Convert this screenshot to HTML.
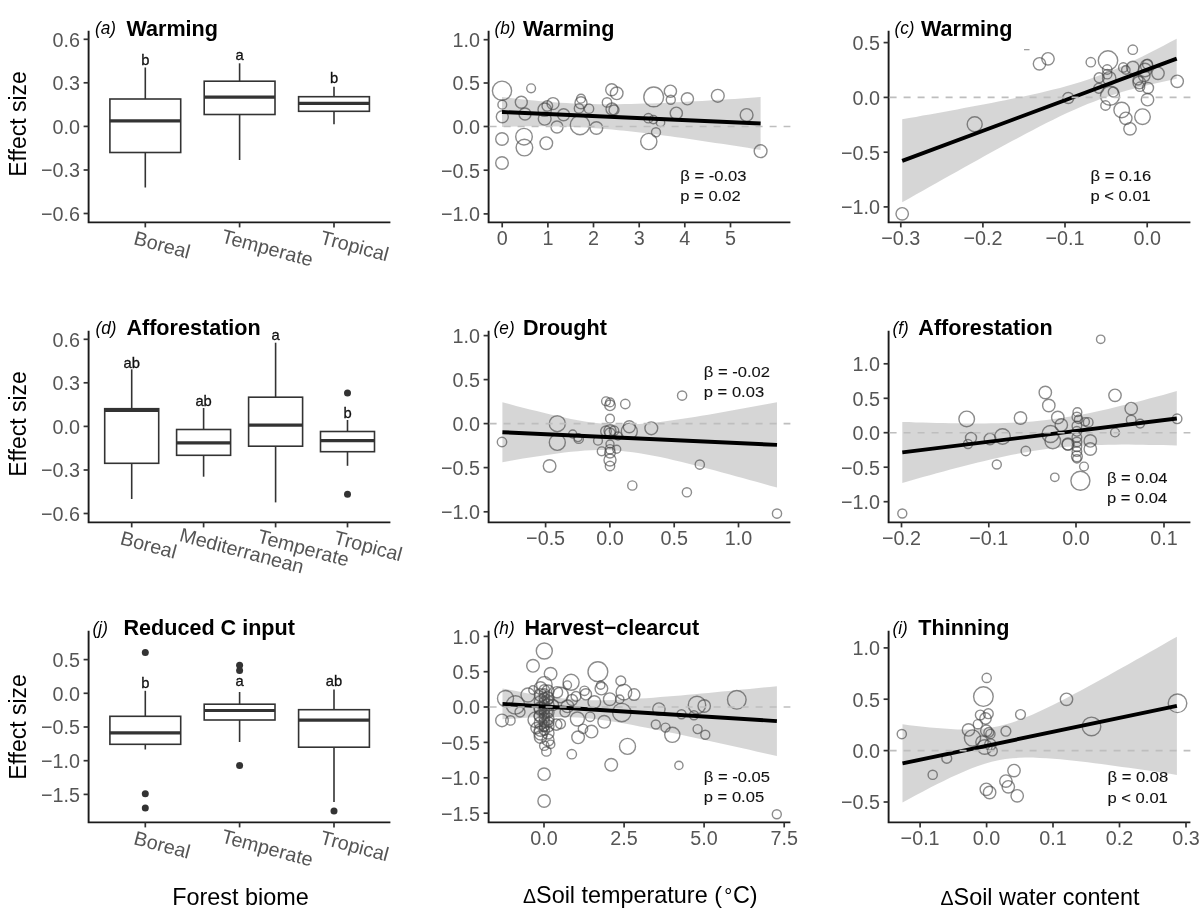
<!DOCTYPE html>
<html><head><meta charset="utf-8"><style>
html,body{margin:0;padding:0;background:#fff;}
svg{display:block;font-family:"Liberation Sans",sans-serif;will-change:transform;}
</style></head><body>
<svg width="1200" height="922" viewBox="0 0 1200 922">
<rect width="1200" height="922" fill="#fff"/>
<path d="M88.6 30.8 V222.4 H390.4" fill="none" stroke="#1a1a1a" stroke-width="1.9" stroke-linejoin="miter"/>
<line x1="83.6" y1="39.3" x2="88.6" y2="39.3" stroke="#333333" stroke-width="1.7"/>
<text transform="translate(80.0 46.7) scale(1.03 1.08)" text-anchor="end" font-size="19.2" fill="#555555">0.6</text>
<line x1="83.6" y1="82.8" x2="88.6" y2="82.8" stroke="#333333" stroke-width="1.7"/>
<text transform="translate(80.0 90.2) scale(1.03 1.08)" text-anchor="end" font-size="19.2" fill="#555555">0.3</text>
<line x1="83.6" y1="126.4" x2="88.6" y2="126.4" stroke="#333333" stroke-width="1.7"/>
<text transform="translate(80.0 133.8) scale(1.03 1.08)" text-anchor="end" font-size="19.2" fill="#555555">0.0</text>
<line x1="83.6" y1="170.0" x2="88.6" y2="170.0" stroke="#333333" stroke-width="1.7"/>
<text transform="translate(80.0 177.4) scale(1.03 1.08)" text-anchor="end" font-size="19.2" fill="#555555">−0.3</text>
<line x1="83.6" y1="213.5" x2="88.6" y2="213.5" stroke="#333333" stroke-width="1.7"/>
<text transform="translate(80.0 220.9) scale(1.03 1.08)" text-anchor="end" font-size="19.2" fill="#555555">−0.6</text>
<text transform="translate(25.9 124.0) rotate(-90) scale(0.965 1)" text-anchor="middle" font-size="23.8" fill="#000">Effect size</text>
<line x1="145.3" y1="67.5" x2="145.3" y2="99.0" stroke="#333333" stroke-width="1.6"/>
<line x1="145.3" y1="152.5" x2="145.3" y2="187.5" stroke="#333333" stroke-width="1.6"/>
<rect x="109.9" y="99.0" width="70.8" height="53.5" fill="#fff" stroke="#333333" stroke-width="1.6"/>
<line x1="109.9" y1="120.8" x2="180.7" y2="120.8" stroke="#333333" stroke-width="3.2"/>
<text transform="translate(145.3 65.2) scale(1.01 1)" text-anchor="middle" font-size="14.6" fill="#111" stroke="#111" stroke-width="0.3">b</text>
<line x1="239.6" y1="63.3" x2="239.6" y2="81.2" stroke="#333333" stroke-width="1.6"/>
<line x1="239.6" y1="114.5" x2="239.6" y2="160.0" stroke="#333333" stroke-width="1.6"/>
<rect x="204.2" y="81.2" width="70.8" height="33.3" fill="#fff" stroke="#333333" stroke-width="1.6"/>
<line x1="204.2" y1="97.2" x2="275.0" y2="97.2" stroke="#333333" stroke-width="3.2"/>
<text transform="translate(239.6 60.4) scale(1.01 1)" text-anchor="middle" font-size="14.6" fill="#111" stroke="#111" stroke-width="0.3">a</text>
<line x1="334.0" y1="86.7" x2="334.0" y2="96.7" stroke="#333333" stroke-width="1.6"/>
<line x1="334.0" y1="111.3" x2="334.0" y2="124.2" stroke="#333333" stroke-width="1.6"/>
<rect x="298.6" y="96.7" width="70.8" height="14.6" fill="#fff" stroke="#333333" stroke-width="1.6"/>
<line x1="298.6" y1="103.3" x2="369.4" y2="103.3" stroke="#333333" stroke-width="3.2"/>
<text transform="translate(334.0 83.3) scale(1.01 1)" text-anchor="middle" font-size="14.6" fill="#111" stroke="#111" stroke-width="0.3">b</text>
<line x1="145.3" y1="222.4" x2="145.3" y2="227.4" stroke="#333333" stroke-width="1.7"/>
<text transform="translate(143.0 246.8) rotate(15.0)" x="-10.6" y="0" font-size="19.8" fill="#555555">Boreal</text>
<line x1="239.6" y1="222.4" x2="239.6" y2="227.4" stroke="#333333" stroke-width="1.7"/>
<text transform="translate(237.3 246.8) rotate(15.0)" x="-17.3" y="0" font-size="19.8" fill="#555555">Temperate</text>
<line x1="334.0" y1="222.4" x2="334.0" y2="227.4" stroke="#333333" stroke-width="1.7"/>
<text transform="translate(331.7 246.8) rotate(15.0)" x="-12.9" y="0" font-size="19.8" fill="#555555">Tropical</text>
<text transform="translate(94.9 33.9) scale(1 1.1)" font-size="17.2" font-style="italic" fill="#000">(a)</text>
<text x="126.4" y="35.5" font-size="21.6" font-weight="bold" fill="#000">Warming</text>
<path d="M88.6 330.8 V522.4 H390.4" fill="none" stroke="#1a1a1a" stroke-width="1.9" stroke-linejoin="miter"/>
<line x1="83.6" y1="339.3" x2="88.6" y2="339.3" stroke="#333333" stroke-width="1.7"/>
<text transform="translate(80.0 346.7) scale(1.03 1.08)" text-anchor="end" font-size="19.2" fill="#555555">0.6</text>
<line x1="83.6" y1="382.8" x2="88.6" y2="382.8" stroke="#333333" stroke-width="1.7"/>
<text transform="translate(80.0 390.2) scale(1.03 1.08)" text-anchor="end" font-size="19.2" fill="#555555">0.3</text>
<line x1="83.6" y1="426.4" x2="88.6" y2="426.4" stroke="#333333" stroke-width="1.7"/>
<text transform="translate(80.0 433.8) scale(1.03 1.08)" text-anchor="end" font-size="19.2" fill="#555555">0.0</text>
<line x1="83.6" y1="470.0" x2="88.6" y2="470.0" stroke="#333333" stroke-width="1.7"/>
<text transform="translate(80.0 477.4) scale(1.03 1.08)" text-anchor="end" font-size="19.2" fill="#555555">−0.3</text>
<line x1="83.6" y1="513.5" x2="88.6" y2="513.5" stroke="#333333" stroke-width="1.7"/>
<text transform="translate(80.0 520.9) scale(1.03 1.08)" text-anchor="end" font-size="19.2" fill="#555555">−0.6</text>
<text transform="translate(25.9 424.0) rotate(-90) scale(0.965 1)" text-anchor="middle" font-size="23.8" fill="#000">Effect size</text>
<line x1="131.7" y1="369.3" x2="131.7" y2="408.7" stroke="#333333" stroke-width="1.6"/>
<line x1="131.7" y1="463.3" x2="131.7" y2="499.0" stroke="#333333" stroke-width="1.6"/>
<rect x="104.7" y="408.7" width="54.0" height="54.6" fill="#fff" stroke="#333333" stroke-width="1.6"/>
<line x1="104.7" y1="410.5" x2="158.7" y2="410.5" stroke="#333333" stroke-width="3.2"/>
<text transform="translate(131.7 368.2) scale(1.01 1)" text-anchor="middle" font-size="14.6" fill="#111" stroke="#111" stroke-width="0.3">ab</text>
<line x1="203.6" y1="408.0" x2="203.6" y2="429.5" stroke="#333333" stroke-width="1.6"/>
<line x1="203.6" y1="455.3" x2="203.6" y2="476.7" stroke="#333333" stroke-width="1.6"/>
<rect x="176.6" y="429.5" width="54.0" height="25.8" fill="#fff" stroke="#333333" stroke-width="1.6"/>
<line x1="176.6" y1="442.8" x2="230.6" y2="442.8" stroke="#333333" stroke-width="3.2"/>
<text transform="translate(203.6 405.8) scale(1.01 1)" text-anchor="middle" font-size="14.6" fill="#111" stroke="#111" stroke-width="0.3">ab</text>
<line x1="275.6" y1="342.7" x2="275.6" y2="397.2" stroke="#333333" stroke-width="1.6"/>
<line x1="275.6" y1="446.2" x2="275.6" y2="502.4" stroke="#333333" stroke-width="1.6"/>
<rect x="248.6" y="397.2" width="54.0" height="49.0" fill="#fff" stroke="#333333" stroke-width="1.6"/>
<line x1="248.6" y1="425.2" x2="302.6" y2="425.2" stroke="#333333" stroke-width="3.2"/>
<text transform="translate(275.6 339.8) scale(1.01 1)" text-anchor="middle" font-size="14.6" fill="#111" stroke="#111" stroke-width="0.3">a</text>
<line x1="347.5" y1="420.0" x2="347.5" y2="431.5" stroke="#333333" stroke-width="1.6"/>
<line x1="347.5" y1="451.7" x2="347.5" y2="465.8" stroke="#333333" stroke-width="1.6"/>
<rect x="320.5" y="431.5" width="54.0" height="20.2" fill="#fff" stroke="#333333" stroke-width="1.6"/>
<line x1="320.5" y1="440.6" x2="374.5" y2="440.6" stroke="#333333" stroke-width="3.2"/>
<circle cx="347.5" cy="393.0" r="3.5" fill="#333333"/>
<circle cx="347.5" cy="494.2" r="3.5" fill="#333333"/>
<text transform="translate(347.5 417.5) scale(1.01 1)" text-anchor="middle" font-size="14.6" fill="#111" stroke="#111" stroke-width="0.3">b</text>
<line x1="131.7" y1="522.4" x2="131.7" y2="527.4" stroke="#333333" stroke-width="1.7"/>
<text transform="translate(129.4 546.8) rotate(15.0)" x="-10.6" y="0" font-size="19.8" fill="#555555">Boreal</text>
<line x1="203.6" y1="522.4" x2="203.6" y2="527.4" stroke="#333333" stroke-width="1.7"/>
<text transform="translate(201.3 546.8) rotate(15.0)" x="-23.6" y="0" font-size="19.8" fill="#555555">Mediterranean</text>
<line x1="275.6" y1="522.4" x2="275.6" y2="527.4" stroke="#333333" stroke-width="1.7"/>
<text transform="translate(273.3 546.8) rotate(15.0)" x="-17.3" y="0" font-size="19.8" fill="#555555">Temperate</text>
<line x1="347.5" y1="522.4" x2="347.5" y2="527.4" stroke="#333333" stroke-width="1.7"/>
<text transform="translate(345.2 546.8) rotate(15.0)" x="-12.9" y="0" font-size="19.8" fill="#555555">Tropical</text>
<text transform="translate(95.4 333.5) scale(1 1.1)" font-size="17.2" font-style="italic" fill="#000">(d)</text>
<text x="126.4" y="334.7" font-size="21.6" font-weight="bold" fill="#000">Afforestation</text>
<path d="M88.6 630.8 V822.4 H390.4" fill="none" stroke="#1a1a1a" stroke-width="1.9" stroke-linejoin="miter"/>
<line x1="83.6" y1="659.6" x2="88.6" y2="659.6" stroke="#333333" stroke-width="1.7"/>
<text transform="translate(80.0 667.0) scale(1.03 1.08)" text-anchor="end" font-size="19.2" fill="#555555">0.5</text>
<line x1="83.6" y1="693.3" x2="88.6" y2="693.3" stroke="#333333" stroke-width="1.7"/>
<text transform="translate(80.0 700.7) scale(1.03 1.08)" text-anchor="end" font-size="19.2" fill="#555555">0.0</text>
<line x1="83.6" y1="727.0" x2="88.6" y2="727.0" stroke="#333333" stroke-width="1.7"/>
<text transform="translate(80.0 734.4) scale(1.03 1.08)" text-anchor="end" font-size="19.2" fill="#555555">−0.5</text>
<line x1="83.6" y1="760.7" x2="88.6" y2="760.7" stroke="#333333" stroke-width="1.7"/>
<text transform="translate(80.0 768.1) scale(1.03 1.08)" text-anchor="end" font-size="19.2" fill="#555555">−1.0</text>
<line x1="83.6" y1="794.4" x2="88.6" y2="794.4" stroke="#333333" stroke-width="1.7"/>
<text transform="translate(80.0 801.8) scale(1.03 1.08)" text-anchor="end" font-size="19.2" fill="#555555">−1.5</text>
<text transform="translate(25.9 727.0) rotate(-90) scale(0.965 1)" text-anchor="middle" font-size="23.8" fill="#000">Effect size</text>
<line x1="145.3" y1="690.8" x2="145.3" y2="716.3" stroke="#333333" stroke-width="1.6"/>
<line x1="145.3" y1="744.3" x2="145.3" y2="749.5" stroke="#333333" stroke-width="1.6"/>
<rect x="109.9" y="716.3" width="70.8" height="28.0" fill="#fff" stroke="#333333" stroke-width="1.6"/>
<line x1="109.9" y1="732.8" x2="180.7" y2="732.8" stroke="#333333" stroke-width="3.2"/>
<circle cx="145.3" cy="652.5" r="3.5" fill="#333333"/>
<circle cx="145.3" cy="793.7" r="3.5" fill="#333333"/>
<circle cx="145.3" cy="808.0" r="3.5" fill="#333333"/>
<text transform="translate(145.3 688.0) scale(1.01 1)" text-anchor="middle" font-size="14.6" fill="#111" stroke="#111" stroke-width="0.3">b</text>
<line x1="239.6" y1="692.0" x2="239.6" y2="704.2" stroke="#333333" stroke-width="1.6"/>
<line x1="239.6" y1="720.0" x2="239.6" y2="742.0" stroke="#333333" stroke-width="1.6"/>
<rect x="204.2" y="704.2" width="70.8" height="15.8" fill="#fff" stroke="#333333" stroke-width="1.6"/>
<line x1="204.2" y1="710.5" x2="275.0" y2="710.5" stroke="#333333" stroke-width="3.2"/>
<circle cx="239.6" cy="665.3" r="3.5" fill="#333333"/>
<circle cx="239.6" cy="670.5" r="3.5" fill="#333333"/>
<circle cx="239.6" cy="765.5" r="3.5" fill="#333333"/>
<text transform="translate(239.6 685.8) scale(1.01 1)" text-anchor="middle" font-size="14.6" fill="#111" stroke="#111" stroke-width="0.3">a</text>
<line x1="334.0" y1="689.4" x2="334.0" y2="709.7" stroke="#333333" stroke-width="1.6"/>
<line x1="334.0" y1="747.2" x2="334.0" y2="802.0" stroke="#333333" stroke-width="1.6"/>
<rect x="298.6" y="709.7" width="70.8" height="37.5" fill="#fff" stroke="#333333" stroke-width="1.6"/>
<line x1="298.6" y1="720.2" x2="369.4" y2="720.2" stroke="#333333" stroke-width="3.2"/>
<circle cx="334.0" cy="810.9" r="3.5" fill="#333333"/>
<text transform="translate(334.0 685.9) scale(1.01 1)" text-anchor="middle" font-size="14.6" fill="#111" stroke="#111" stroke-width="0.3">ab</text>
<line x1="145.3" y1="822.4" x2="145.3" y2="827.4" stroke="#333333" stroke-width="1.7"/>
<text transform="translate(143.0 846.8) rotate(15.0)" x="-10.6" y="0" font-size="19.8" fill="#555555">Boreal</text>
<line x1="239.6" y1="822.4" x2="239.6" y2="827.4" stroke="#333333" stroke-width="1.7"/>
<text transform="translate(237.3 846.8) rotate(15.0)" x="-17.3" y="0" font-size="19.8" fill="#555555">Temperate</text>
<line x1="334.0" y1="822.4" x2="334.0" y2="827.4" stroke="#333333" stroke-width="1.7"/>
<text transform="translate(331.7 846.8) rotate(15.0)" x="-12.9" y="0" font-size="19.8" fill="#555555">Tropical</text>
<text transform="translate(92.6 633.5) scale(1 1.1)" font-size="17.2" font-style="italic" fill="#000">(j)</text>
<text x="123.4" y="634.7" font-size="21.6" font-weight="bold" fill="#000">Reduced C input</text>
<path d="M488.6 30.8 V222.4 H790.4" fill="none" stroke="#1a1a1a" stroke-width="1.9" stroke-linejoin="miter"/>
<line x1="483.6" y1="39.7" x2="488.6" y2="39.7" stroke="#333333" stroke-width="1.7"/>
<text transform="translate(480.0 47.1) scale(1.03 1.08)" text-anchor="end" font-size="19.2" fill="#555555">1.0</text>
<line x1="483.6" y1="83.0" x2="488.6" y2="83.0" stroke="#333333" stroke-width="1.7"/>
<text transform="translate(480.0 90.4) scale(1.03 1.08)" text-anchor="end" font-size="19.2" fill="#555555">0.5</text>
<line x1="483.6" y1="126.5" x2="488.6" y2="126.5" stroke="#333333" stroke-width="1.7"/>
<text transform="translate(480.0 133.9) scale(1.03 1.08)" text-anchor="end" font-size="19.2" fill="#555555">0.0</text>
<line x1="483.6" y1="170.2" x2="488.6" y2="170.2" stroke="#333333" stroke-width="1.7"/>
<text transform="translate(480.0 177.6) scale(1.03 1.08)" text-anchor="end" font-size="19.2" fill="#555555">−0.5</text>
<line x1="483.6" y1="213.9" x2="488.6" y2="213.9" stroke="#333333" stroke-width="1.7"/>
<text transform="translate(480.0 221.3) scale(1.03 1.08)" text-anchor="end" font-size="19.2" fill="#555555">−1.0</text>
<line x1="502.2" y1="222.4" x2="502.2" y2="227.4" stroke="#333333" stroke-width="1.7"/>
<text transform="translate(502.2 244.9) scale(1.03 1.08)" text-anchor="middle" font-size="19.2" fill="#555555">0</text>
<line x1="547.9" y1="222.4" x2="547.9" y2="227.4" stroke="#333333" stroke-width="1.7"/>
<text transform="translate(547.9 244.9) scale(1.03 1.08)" text-anchor="middle" font-size="19.2" fill="#555555">1</text>
<line x1="593.5" y1="222.4" x2="593.5" y2="227.4" stroke="#333333" stroke-width="1.7"/>
<text transform="translate(593.5 244.9) scale(1.03 1.08)" text-anchor="middle" font-size="19.2" fill="#555555">2</text>
<line x1="639.2" y1="222.4" x2="639.2" y2="227.4" stroke="#333333" stroke-width="1.7"/>
<text transform="translate(639.2 244.9) scale(1.03 1.08)" text-anchor="middle" font-size="19.2" fill="#555555">3</text>
<line x1="684.8" y1="222.4" x2="684.8" y2="227.4" stroke="#333333" stroke-width="1.7"/>
<text transform="translate(684.8 244.9) scale(1.03 1.08)" text-anchor="middle" font-size="19.2" fill="#555555">4</text>
<line x1="730.5" y1="222.4" x2="730.5" y2="227.4" stroke="#333333" stroke-width="1.7"/>
<text transform="translate(730.5 244.9) scale(1.03 1.08)" text-anchor="middle" font-size="19.2" fill="#555555">5</text>
<path d="M502.0 97.0 L508.5 97.8 L514.9 98.6 L521.4 99.3 L527.9 100.0 L534.3 100.6 L540.8 101.2 L547.3 101.7 L553.7 102.2 L560.2 102.7 L566.6 103.1 L573.1 103.4 L579.6 103.7 L586.0 103.9 L592.5 104.1 L599.0 104.2 L605.4 104.2 L611.9 104.2 L618.4 104.2 L624.8 104.1 L631.3 104.0 L637.8 103.8 L644.2 103.6 L650.7 103.4 L657.2 103.2 L663.6 102.9 L670.1 102.6 L676.6 102.3 L683.0 102.0 L689.5 101.6 L696.0 101.3 L702.4 100.9 L708.9 100.5 L715.3 100.1 L721.8 99.7 L728.3 99.3 L734.7 98.9 L741.2 98.4 L747.7 98.0 L754.1 97.6 L760.6 97.1 L760.6 149.9 L754.1 148.9 L747.7 147.8 L741.2 146.8 L734.7 145.8 L728.3 144.8 L721.8 143.8 L715.3 142.9 L708.9 141.9 L702.4 140.9 L696.0 140.0 L689.5 139.1 L683.0 138.1 L676.6 137.2 L670.1 136.3 L663.6 135.5 L657.2 134.6 L650.7 133.8 L644.2 133.0 L637.8 132.2 L631.3 131.5 L624.8 130.8 L618.4 130.2 L611.9 129.5 L605.4 129.0 L599.0 128.4 L592.5 128.0 L586.0 127.6 L579.6 127.2 L573.1 126.9 L566.6 126.7 L560.2 126.5 L553.7 126.4 L547.3 126.3 L540.8 126.3 L534.3 126.3 L527.9 126.3 L521.4 126.4 L514.9 126.6 L508.5 126.8 L502.0 127.0Z" fill="rgba(153,153,153,0.4)"/>
<circle cx="502.0" cy="90.7" r="9.6" fill="none" stroke="rgba(70,70,70,0.62)" stroke-width="1.4"/>
<circle cx="531.1" cy="88.3" r="4.4" fill="none" stroke="rgba(70,70,70,0.62)" stroke-width="1.4"/>
<circle cx="502.3" cy="104.7" r="4.4" fill="none" stroke="rgba(70,70,70,0.62)" stroke-width="1.4"/>
<circle cx="521.3" cy="102.3" r="6.0" fill="none" stroke="rgba(70,70,70,0.62)" stroke-width="1.4"/>
<circle cx="502.3" cy="116.7" r="6.0" fill="none" stroke="rgba(70,70,70,0.62)" stroke-width="1.4"/>
<circle cx="525.0" cy="114.0" r="6.0" fill="none" stroke="rgba(70,70,70,0.62)" stroke-width="1.4"/>
<circle cx="544.7" cy="109.7" r="6.7" fill="none" stroke="rgba(70,70,70,0.62)" stroke-width="1.4"/>
<circle cx="547.3" cy="106.0" r="5.3" fill="none" stroke="rgba(70,70,70,0.62)" stroke-width="1.4"/>
<circle cx="553.0" cy="103.6" r="6.0" fill="none" stroke="rgba(70,70,70,0.62)" stroke-width="1.4"/>
<circle cx="544.7" cy="118.7" r="6.4" fill="none" stroke="rgba(70,70,70,0.62)" stroke-width="1.4"/>
<circle cx="563.6" cy="114.7" r="6.0" fill="none" stroke="rgba(70,70,70,0.62)" stroke-width="1.4"/>
<circle cx="557.0" cy="127.0" r="6.0" fill="none" stroke="rgba(70,70,70,0.62)" stroke-width="1.4"/>
<circle cx="580.0" cy="125.0" r="9.7" fill="none" stroke="rgba(70,70,70,0.62)" stroke-width="1.4"/>
<circle cx="581.0" cy="98.7" r="4.4" fill="none" stroke="rgba(70,70,70,0.62)" stroke-width="1.4"/>
<circle cx="581.0" cy="102.7" r="6.0" fill="none" stroke="rgba(70,70,70,0.62)" stroke-width="1.4"/>
<circle cx="579.0" cy="108.4" r="4.7" fill="none" stroke="rgba(70,70,70,0.62)" stroke-width="1.4"/>
<circle cx="589.0" cy="108.7" r="4.7" fill="none" stroke="rgba(70,70,70,0.62)" stroke-width="1.4"/>
<circle cx="596.4" cy="128.0" r="6.3" fill="none" stroke="rgba(70,70,70,0.62)" stroke-width="1.4"/>
<circle cx="611.7" cy="89.7" r="6.0" fill="none" stroke="rgba(70,70,70,0.62)" stroke-width="1.4"/>
<circle cx="616.7" cy="93.3" r="6.3" fill="none" stroke="rgba(70,70,70,0.62)" stroke-width="1.4"/>
<circle cx="607.0" cy="102.4" r="4.7" fill="none" stroke="rgba(70,70,70,0.62)" stroke-width="1.4"/>
<circle cx="612.0" cy="109.0" r="6.0" fill="none" stroke="rgba(70,70,70,0.62)" stroke-width="1.4"/>
<circle cx="614.0" cy="110.0" r="5.0" fill="none" stroke="rgba(70,70,70,0.62)" stroke-width="1.4"/>
<circle cx="502.0" cy="139.0" r="6.3" fill="none" stroke="rgba(70,70,70,0.62)" stroke-width="1.4"/>
<circle cx="524.0" cy="136.7" r="8.3" fill="none" stroke="rgba(70,70,70,0.62)" stroke-width="1.4"/>
<circle cx="524.4" cy="147.6" r="8.3" fill="none" stroke="rgba(70,70,70,0.62)" stroke-width="1.4"/>
<circle cx="546.3" cy="143.2" r="6.3" fill="none" stroke="rgba(70,70,70,0.62)" stroke-width="1.4"/>
<circle cx="502.0" cy="163.0" r="6.3" fill="none" stroke="rgba(70,70,70,0.62)" stroke-width="1.4"/>
<circle cx="653.7" cy="96.9" r="9.9" fill="none" stroke="rgba(70,70,70,0.62)" stroke-width="1.4"/>
<circle cx="670.4" cy="91.2" r="6.1" fill="none" stroke="rgba(70,70,70,0.62)" stroke-width="1.4"/>
<circle cx="670.8" cy="99.7" r="4.5" fill="none" stroke="rgba(70,70,70,0.62)" stroke-width="1.4"/>
<circle cx="687.4" cy="98.8" r="6.1" fill="none" stroke="rgba(70,70,70,0.62)" stroke-width="1.4"/>
<circle cx="717.8" cy="95.8" r="6.4" fill="none" stroke="rgba(70,70,70,0.62)" stroke-width="1.4"/>
<circle cx="676.3" cy="113.2" r="6.1" fill="none" stroke="rgba(70,70,70,0.62)" stroke-width="1.4"/>
<circle cx="648.4" cy="118.2" r="4.7" fill="none" stroke="rgba(70,70,70,0.62)" stroke-width="1.4"/>
<circle cx="653.4" cy="119.6" r="4.2" fill="none" stroke="rgba(70,70,70,0.62)" stroke-width="1.4"/>
<circle cx="660.5" cy="122.4" r="4.2" fill="none" stroke="rgba(70,70,70,0.62)" stroke-width="1.4"/>
<circle cx="656.0" cy="132.3" r="4.5" fill="none" stroke="rgba(70,70,70,0.62)" stroke-width="1.4"/>
<circle cx="648.8" cy="141.5" r="8.1" fill="none" stroke="rgba(70,70,70,0.62)" stroke-width="1.4"/>
<circle cx="746.6" cy="115.0" r="6.4" fill="none" stroke="rgba(70,70,70,0.62)" stroke-width="1.4"/>
<circle cx="760.6" cy="151.2" r="6.4" fill="none" stroke="rgba(70,70,70,0.62)" stroke-width="1.4"/>
<line x1="502.0" y1="112.0" x2="760.6" y2="123.5" stroke="#000" stroke-width="3.9"/>
<line x1="489.6" y1="126.5" x2="790.4" y2="126.5" stroke="#bebebe" stroke-width="1.6" stroke-dasharray="7 7"/>
<text transform="translate(680.3 181.2) scale(1.135 1)" font-size="14.6" fill="#111" stroke="#111" stroke-width="0.1">β = -0.03</text>
<text transform="translate(680.3 201.4) scale(1.135 1)" font-size="14.6" fill="#111" stroke="#111" stroke-width="0.1">p = 0.02</text>
<text transform="translate(494.4 33.9) scale(1 1.1)" font-size="17.2" font-style="italic" fill="#000">(b)</text>
<text x="522.9" y="35.5" font-size="21.6" font-weight="bold" fill="#000">Warming</text>
<path d="M488.6 330.8 V522.4 H790.4" fill="none" stroke="#1a1a1a" stroke-width="1.9" stroke-linejoin="miter"/>
<line x1="483.6" y1="335.6" x2="488.6" y2="335.6" stroke="#333333" stroke-width="1.7"/>
<text transform="translate(480.0 343.0) scale(1.03 1.08)" text-anchor="end" font-size="19.2" fill="#555555">1.0</text>
<line x1="483.6" y1="379.6" x2="488.6" y2="379.6" stroke="#333333" stroke-width="1.7"/>
<text transform="translate(480.0 387.0) scale(1.03 1.08)" text-anchor="end" font-size="19.2" fill="#555555">0.5</text>
<line x1="483.6" y1="423.6" x2="488.6" y2="423.6" stroke="#333333" stroke-width="1.7"/>
<text transform="translate(480.0 431.0) scale(1.03 1.08)" text-anchor="end" font-size="19.2" fill="#555555">0.0</text>
<line x1="483.6" y1="467.6" x2="488.6" y2="467.6" stroke="#333333" stroke-width="1.7"/>
<text transform="translate(480.0 475.0) scale(1.03 1.08)" text-anchor="end" font-size="19.2" fill="#555555">−0.5</text>
<line x1="483.6" y1="511.8" x2="488.6" y2="511.8" stroke="#333333" stroke-width="1.7"/>
<text transform="translate(480.0 519.2) scale(1.03 1.08)" text-anchor="end" font-size="19.2" fill="#555555">−1.0</text>
<line x1="545.6" y1="522.4" x2="545.6" y2="527.4" stroke="#333333" stroke-width="1.7"/>
<text transform="translate(545.6 544.9) scale(1.03 1.08)" text-anchor="middle" font-size="19.2" fill="#555555">−0.5</text>
<line x1="609.9" y1="522.4" x2="609.9" y2="527.4" stroke="#333333" stroke-width="1.7"/>
<text transform="translate(609.9 544.9) scale(1.03 1.08)" text-anchor="middle" font-size="19.2" fill="#555555">0.0</text>
<line x1="674.2" y1="522.4" x2="674.2" y2="527.4" stroke="#333333" stroke-width="1.7"/>
<text transform="translate(674.2 544.9) scale(1.03 1.08)" text-anchor="middle" font-size="19.2" fill="#555555">0.5</text>
<line x1="738.5" y1="522.4" x2="738.5" y2="527.4" stroke="#333333" stroke-width="1.7"/>
<text transform="translate(738.5 544.9) scale(1.03 1.08)" text-anchor="middle" font-size="19.2" fill="#555555">1.0</text>
<path d="M502.4 402.2 L509.3 404.1 L516.1 405.9 L523.0 407.7 L529.9 409.4 L536.7 411.1 L543.6 412.8 L550.5 414.4 L557.3 416.0 L564.2 417.5 L571.0 418.9 L577.9 420.2 L584.8 421.4 L591.6 422.4 L598.5 423.2 L605.4 423.9 L612.2 424.3 L619.1 424.5 L626.0 424.5 L632.8 424.3 L639.7 423.9 L646.6 423.3 L653.4 422.7 L660.3 421.9 L667.2 421.0 L674.0 420.1 L680.9 419.1 L687.8 418.0 L694.6 416.9 L701.5 415.8 L708.3 414.7 L715.2 413.5 L722.1 412.3 L728.9 411.1 L735.8 409.8 L742.7 408.6 L749.5 407.3 L756.4 406.1 L763.3 404.8 L770.1 403.5 L777.0 402.2 L777.0 487.6 L770.1 485.7 L763.3 483.7 L756.4 481.8 L749.5 479.9 L742.7 478.0 L735.8 476.2 L728.9 474.3 L722.1 472.4 L715.2 470.6 L708.3 468.8 L701.5 467.0 L694.6 465.2 L687.8 463.5 L680.9 461.8 L674.0 460.2 L667.2 458.6 L660.3 457.1 L653.4 455.7 L646.6 454.4 L639.7 453.2 L632.8 452.2 L626.0 451.4 L619.1 450.7 L612.2 450.3 L605.4 450.1 L598.5 450.1 L591.6 450.3 L584.8 450.6 L577.9 451.2 L571.0 451.8 L564.2 452.6 L557.3 453.5 L550.5 454.4 L543.6 455.4 L536.7 456.4 L529.9 457.5 L523.0 458.6 L516.1 459.8 L509.3 461.0 L502.4 462.2Z" fill="rgba(153,153,153,0.4)"/>
<circle cx="502.0" cy="442.0" r="4.7" fill="none" stroke="rgba(70,70,70,0.62)" stroke-width="1.4"/>
<circle cx="557.3" cy="423.7" r="8.0" fill="none" stroke="rgba(70,70,70,0.62)" stroke-width="1.4"/>
<circle cx="557.3" cy="442.4" r="8.0" fill="none" stroke="rgba(70,70,70,0.62)" stroke-width="1.4"/>
<circle cx="549.6" cy="466.0" r="6.3" fill="none" stroke="rgba(70,70,70,0.62)" stroke-width="1.4"/>
<circle cx="572.7" cy="434.0" r="4.0" fill="none" stroke="rgba(70,70,70,0.62)" stroke-width="1.4"/>
<circle cx="578.7" cy="438.7" r="4.7" fill="none" stroke="rgba(70,70,70,0.62)" stroke-width="1.4"/>
<circle cx="578.0" cy="437.6" r="4.0" fill="none" stroke="rgba(70,70,70,0.62)" stroke-width="1.4"/>
<circle cx="598.0" cy="440.7" r="4.4" fill="none" stroke="rgba(70,70,70,0.62)" stroke-width="1.4"/>
<circle cx="601.7" cy="451.3" r="4.4" fill="none" stroke="rgba(70,70,70,0.62)" stroke-width="1.4"/>
<circle cx="606.0" cy="401.3" r="4.4" fill="none" stroke="rgba(70,70,70,0.62)" stroke-width="1.4"/>
<circle cx="610.0" cy="402.4" r="4.4" fill="none" stroke="rgba(70,70,70,0.62)" stroke-width="1.4"/>
<circle cx="610.0" cy="405.3" r="5.3" fill="none" stroke="rgba(70,70,70,0.62)" stroke-width="1.4"/>
<circle cx="610.0" cy="418.7" r="4.4" fill="none" stroke="rgba(70,70,70,0.62)" stroke-width="1.4"/>
<circle cx="606.0" cy="431.3" r="5.3" fill="none" stroke="rgba(70,70,70,0.62)" stroke-width="1.4"/>
<circle cx="610.0" cy="430.7" r="6.0" fill="none" stroke="rgba(70,70,70,0.62)" stroke-width="1.4"/>
<circle cx="610.0" cy="433.3" r="5.3" fill="none" stroke="rgba(70,70,70,0.62)" stroke-width="1.4"/>
<circle cx="614.0" cy="430.7" r="4.7" fill="none" stroke="rgba(70,70,70,0.62)" stroke-width="1.4"/>
<circle cx="618.0" cy="436.0" r="4.0" fill="none" stroke="rgba(70,70,70,0.62)" stroke-width="1.4"/>
<circle cx="610.0" cy="444.0" r="4.0" fill="none" stroke="rgba(70,70,70,0.62)" stroke-width="1.4"/>
<circle cx="610.0" cy="449.3" r="4.7" fill="none" stroke="rgba(70,70,70,0.62)" stroke-width="1.4"/>
<circle cx="616.7" cy="449.3" r="4.0" fill="none" stroke="rgba(70,70,70,0.62)" stroke-width="1.4"/>
<circle cx="610.0" cy="452.7" r="5.3" fill="none" stroke="rgba(70,70,70,0.62)" stroke-width="1.4"/>
<circle cx="610.0" cy="460.0" r="6.0" fill="none" stroke="rgba(70,70,70,0.62)" stroke-width="1.4"/>
<circle cx="610.0" cy="466.0" r="4.7" fill="none" stroke="rgba(70,70,70,0.62)" stroke-width="1.4"/>
<circle cx="625.3" cy="404.0" r="4.7" fill="none" stroke="rgba(70,70,70,0.62)" stroke-width="1.4"/>
<circle cx="629.3" cy="426.7" r="6.0" fill="none" stroke="rgba(70,70,70,0.62)" stroke-width="1.4"/>
<circle cx="629.3" cy="431.3" r="8.0" fill="none" stroke="rgba(70,70,70,0.62)" stroke-width="1.4"/>
<circle cx="651.3" cy="428.3" r="6.4" fill="none" stroke="rgba(70,70,70,0.62)" stroke-width="1.4"/>
<circle cx="682.1" cy="395.6" r="4.6" fill="none" stroke="rgba(70,70,70,0.62)" stroke-width="1.4"/>
<circle cx="699.8" cy="464.6" r="4.6" fill="none" stroke="rgba(70,70,70,0.62)" stroke-width="1.4"/>
<circle cx="632.3" cy="485.5" r="4.6" fill="none" stroke="rgba(70,70,70,0.62)" stroke-width="1.4"/>
<circle cx="686.9" cy="492.3" r="4.6" fill="none" stroke="rgba(70,70,70,0.62)" stroke-width="1.4"/>
<circle cx="777.0" cy="513.6" r="4.6" fill="none" stroke="rgba(70,70,70,0.62)" stroke-width="1.4"/>
<line x1="502.4" y1="432.2" x2="777.0" y2="444.9" stroke="#000" stroke-width="3.9"/>
<line x1="489.6" y1="423.6" x2="790.4" y2="423.6" stroke="#bebebe" stroke-width="1.6" stroke-dasharray="7 7"/>
<text transform="translate(703.8 376.7) scale(1.135 1)" font-size="14.6" fill="#111" stroke="#111" stroke-width="0.1">β = -0.02</text>
<text transform="translate(703.8 396.9) scale(1.135 1)" font-size="14.6" fill="#111" stroke="#111" stroke-width="0.1">p = 0.03</text>
<text transform="translate(493.6 333.5) scale(1 1.1)" font-size="17.2" font-style="italic" fill="#000">(e)</text>
<text x="522.9" y="334.7" font-size="21.6" font-weight="bold" fill="#000">Drought</text>
<path d="M488.6 630.8 V822.4 H790.4" fill="none" stroke="#1a1a1a" stroke-width="1.9" stroke-linejoin="miter"/>
<line x1="483.6" y1="636.4" x2="488.6" y2="636.4" stroke="#333333" stroke-width="1.7"/>
<text transform="translate(480.0 643.8) scale(1.03 1.08)" text-anchor="end" font-size="19.2" fill="#555555">1.0</text>
<line x1="483.6" y1="671.7" x2="488.6" y2="671.7" stroke="#333333" stroke-width="1.7"/>
<text transform="translate(480.0 679.1) scale(1.03 1.08)" text-anchor="end" font-size="19.2" fill="#555555">0.5</text>
<line x1="483.6" y1="707.0" x2="488.6" y2="707.0" stroke="#333333" stroke-width="1.7"/>
<text transform="translate(480.0 714.4) scale(1.03 1.08)" text-anchor="end" font-size="19.2" fill="#555555">0.0</text>
<line x1="483.6" y1="742.4" x2="488.6" y2="742.4" stroke="#333333" stroke-width="1.7"/>
<text transform="translate(480.0 749.8) scale(1.03 1.08)" text-anchor="end" font-size="19.2" fill="#555555">−0.5</text>
<line x1="483.6" y1="777.8" x2="488.6" y2="777.8" stroke="#333333" stroke-width="1.7"/>
<text transform="translate(480.0 785.2) scale(1.03 1.08)" text-anchor="end" font-size="19.2" fill="#555555">−1.0</text>
<line x1="483.6" y1="813.2" x2="488.6" y2="813.2" stroke="#333333" stroke-width="1.7"/>
<text transform="translate(480.0 820.6) scale(1.03 1.08)" text-anchor="end" font-size="19.2" fill="#555555">−1.5</text>
<line x1="544.0" y1="822.4" x2="544.0" y2="827.4" stroke="#333333" stroke-width="1.7"/>
<text transform="translate(544.0 844.9) scale(1.03 1.08)" text-anchor="middle" font-size="19.2" fill="#555555">0.0</text>
<line x1="624.1" y1="822.4" x2="624.1" y2="827.4" stroke="#333333" stroke-width="1.7"/>
<text transform="translate(624.1 844.9) scale(1.03 1.08)" text-anchor="middle" font-size="19.2" fill="#555555">2.5</text>
<line x1="704.1" y1="822.4" x2="704.1" y2="827.4" stroke="#333333" stroke-width="1.7"/>
<text transform="translate(704.1 844.9) scale(1.03 1.08)" text-anchor="middle" font-size="19.2" fill="#555555">5.0</text>
<line x1="784.2" y1="822.4" x2="784.2" y2="827.4" stroke="#333333" stroke-width="1.7"/>
<text transform="translate(784.2 844.9) scale(1.03 1.08)" text-anchor="middle" font-size="19.2" fill="#555555">7.5</text>
<path d="M502.5 688.5 L509.4 689.8 L516.2 691.1 L523.1 692.4 L529.9 693.7 L536.8 694.8 L543.7 695.9 L550.5 696.9 L557.4 697.8 L564.2 698.6 L571.1 699.2 L578.0 699.7 L584.8 700.0 L591.7 700.2 L598.5 700.3 L605.4 700.2 L612.3 700.0 L619.1 699.8 L626.0 699.5 L632.8 699.1 L639.7 698.6 L646.6 698.2 L653.4 697.7 L660.3 697.1 L667.1 696.6 L674.0 696.0 L680.9 695.4 L687.7 694.8 L694.6 694.2 L701.4 693.5 L708.3 692.9 L715.2 692.2 L722.0 691.6 L728.9 690.9 L735.7 690.3 L742.6 689.6 L749.5 688.9 L756.3 688.2 L763.2 687.6 L770.0 686.9 L776.9 686.2 L776.9 756.0 L770.0 754.5 L763.2 752.9 L756.3 751.4 L749.5 749.8 L742.6 748.3 L735.7 746.8 L728.9 745.2 L722.0 743.7 L715.2 742.2 L708.3 740.7 L701.4 739.2 L694.6 737.7 L687.7 736.2 L680.9 734.8 L674.0 733.3 L667.1 731.9 L660.3 730.5 L653.4 729.1 L646.6 727.7 L639.7 726.4 L632.8 725.1 L626.0 723.8 L619.1 722.6 L612.3 721.5 L605.4 720.5 L598.5 719.6 L591.7 718.8 L584.8 718.1 L578.0 717.6 L571.1 717.2 L564.2 717.0 L557.4 716.9 L550.5 716.9 L543.7 717.0 L536.8 717.3 L529.9 717.6 L523.1 718.0 L516.2 718.4 L509.4 718.8 L502.5 719.3Z" fill="rgba(153,153,153,0.4)"/>
<circle cx="544.3" cy="651.0" r="8.0" fill="none" stroke="rgba(70,70,70,0.62)" stroke-width="1.4"/>
<circle cx="533.0" cy="665.8" r="6.3" fill="none" stroke="rgba(70,70,70,0.62)" stroke-width="1.4"/>
<circle cx="550.6" cy="673.8" r="6.3" fill="none" stroke="rgba(70,70,70,0.62)" stroke-width="1.4"/>
<circle cx="597.9" cy="671.7" r="9.9" fill="none" stroke="rgba(70,70,70,0.62)" stroke-width="1.4"/>
<circle cx="620.8" cy="680.9" r="4.9" fill="none" stroke="rgba(70,70,70,0.62)" stroke-width="1.4"/>
<circle cx="571.1" cy="682.3" r="8.0" fill="none" stroke="rgba(70,70,70,0.62)" stroke-width="1.4"/>
<circle cx="567.3" cy="685.1" r="4.2" fill="none" stroke="rgba(70,70,70,0.62)" stroke-width="1.4"/>
<circle cx="600.7" cy="685.1" r="4.2" fill="none" stroke="rgba(70,70,70,0.62)" stroke-width="1.4"/>
<circle cx="601.4" cy="688.6" r="6.3" fill="none" stroke="rgba(70,70,70,0.62)" stroke-width="1.4"/>
<circle cx="623.9" cy="692.2" r="7.8" fill="none" stroke="rgba(70,70,70,0.62)" stroke-width="1.4"/>
<circle cx="634.1" cy="694.6" r="5.8" fill="none" stroke="rgba(70,70,70,0.62)" stroke-width="1.4"/>
<circle cx="505.5" cy="698.5" r="8.0" fill="none" stroke="rgba(70,70,70,0.62)" stroke-width="1.4"/>
<circle cx="515.4" cy="704.9" r="9.2" fill="none" stroke="rgba(70,70,70,0.62)" stroke-width="1.4"/>
<circle cx="544.3" cy="684.4" r="7.8" fill="none" stroke="rgba(70,70,70,0.62)" stroke-width="1.4"/>
<circle cx="533.0" cy="690.0" r="4.2" fill="none" stroke="rgba(70,70,70,0.62)" stroke-width="1.4"/>
<circle cx="528.0" cy="695.0" r="7.0" fill="none" stroke="rgba(70,70,70,0.62)" stroke-width="1.4"/>
<circle cx="557.0" cy="692.2" r="5.6" fill="none" stroke="rgba(70,70,70,0.62)" stroke-width="1.4"/>
<circle cx="560.5" cy="695.0" r="7.8" fill="none" stroke="rgba(70,70,70,0.62)" stroke-width="1.4"/>
<circle cx="576.0" cy="696.4" r="4.9" fill="none" stroke="rgba(70,70,70,0.62)" stroke-width="1.4"/>
<circle cx="584.5" cy="690.8" r="4.7" fill="none" stroke="rgba(70,70,70,0.62)" stroke-width="1.4"/>
<circle cx="585.9" cy="694.3" r="5.6" fill="none" stroke="rgba(70,70,70,0.62)" stroke-width="1.4"/>
<circle cx="594.3" cy="702.0" r="6.3" fill="none" stroke="rgba(70,70,70,0.62)" stroke-width="1.4"/>
<circle cx="609.8" cy="699.2" r="6.3" fill="none" stroke="rgba(70,70,70,0.62)" stroke-width="1.4"/>
<circle cx="619.7" cy="699.2" r="4.2" fill="none" stroke="rgba(70,70,70,0.62)" stroke-width="1.4"/>
<circle cx="621.8" cy="712.6" r="9.2" fill="none" stroke="rgba(70,70,70,0.62)" stroke-width="1.4"/>
<circle cx="502.0" cy="720.4" r="6.3" fill="none" stroke="rgba(70,70,70,0.62)" stroke-width="1.4"/>
<circle cx="510.4" cy="720.4" r="4.7" fill="none" stroke="rgba(70,70,70,0.62)" stroke-width="1.4"/>
<circle cx="535.8" cy="719.7" r="7.8" fill="none" stroke="rgba(70,70,70,0.62)" stroke-width="1.4"/>
<circle cx="536.5" cy="728.1" r="5.6" fill="none" stroke="rgba(70,70,70,0.62)" stroke-width="1.4"/>
<circle cx="540.8" cy="733.0" r="7.0" fill="none" stroke="rgba(70,70,70,0.62)" stroke-width="1.4"/>
<circle cx="556.3" cy="724.6" r="5.6" fill="none" stroke="rgba(70,70,70,0.62)" stroke-width="1.4"/>
<circle cx="560.5" cy="723.9" r="4.9" fill="none" stroke="rgba(70,70,70,0.62)" stroke-width="1.4"/>
<circle cx="567.5" cy="706.3" r="6.3" fill="none" stroke="rgba(70,70,70,0.62)" stroke-width="1.4"/>
<circle cx="577.4" cy="719.0" r="7.0" fill="none" stroke="rgba(70,70,70,0.62)" stroke-width="1.4"/>
<circle cx="578.1" cy="737.3" r="6.3" fill="none" stroke="rgba(70,70,70,0.62)" stroke-width="1.4"/>
<circle cx="583.0" cy="728.8" r="4.7" fill="none" stroke="rgba(70,70,70,0.62)" stroke-width="1.4"/>
<circle cx="591.5" cy="731.6" r="6.3" fill="none" stroke="rgba(70,70,70,0.62)" stroke-width="1.4"/>
<circle cx="590.1" cy="716.8" r="4.7" fill="none" stroke="rgba(70,70,70,0.62)" stroke-width="1.4"/>
<circle cx="604.2" cy="721.8" r="6.3" fill="none" stroke="rgba(70,70,70,0.62)" stroke-width="1.4"/>
<circle cx="544.3" cy="745.7" r="4.7" fill="none" stroke="rgba(70,70,70,0.62)" stroke-width="1.4"/>
<circle cx="550.6" cy="744.3" r="4.2" fill="none" stroke="rgba(70,70,70,0.62)" stroke-width="1.4"/>
<circle cx="546.4" cy="751.4" r="4.7" fill="none" stroke="rgba(70,70,70,0.62)" stroke-width="1.4"/>
<circle cx="571.8" cy="754.2" r="4.7" fill="none" stroke="rgba(70,70,70,0.62)" stroke-width="1.4"/>
<circle cx="627.5" cy="746.4" r="8.0" fill="none" stroke="rgba(70,70,70,0.62)" stroke-width="1.4"/>
<circle cx="611.2" cy="764.8" r="6.3" fill="none" stroke="rgba(70,70,70,0.62)" stroke-width="1.4"/>
<circle cx="544.1" cy="774.2" r="6.2" fill="none" stroke="rgba(70,70,70,0.62)" stroke-width="1.4"/>
<circle cx="544.1" cy="801.0" r="6.2" fill="none" stroke="rgba(70,70,70,0.62)" stroke-width="1.4"/>
<circle cx="658.9" cy="709.1" r="6.2" fill="none" stroke="rgba(70,70,70,0.62)" stroke-width="1.4"/>
<circle cx="681.5" cy="714.2" r="4.5" fill="none" stroke="rgba(70,70,70,0.62)" stroke-width="1.4"/>
<circle cx="693.9" cy="715.3" r="4.5" fill="none" stroke="rgba(70,70,70,0.62)" stroke-width="1.4"/>
<circle cx="697.0" cy="705.0" r="8.7" fill="none" stroke="rgba(70,70,70,0.62)" stroke-width="1.4"/>
<circle cx="704.2" cy="706.0" r="6.2" fill="none" stroke="rgba(70,70,70,0.62)" stroke-width="1.4"/>
<circle cx="736.8" cy="699.8" r="9.3" fill="none" stroke="rgba(70,70,70,0.62)" stroke-width="1.4"/>
<circle cx="655.8" cy="724.5" r="4.5" fill="none" stroke="rgba(70,70,70,0.62)" stroke-width="1.4"/>
<circle cx="665.5" cy="727.6" r="4.5" fill="none" stroke="rgba(70,70,70,0.62)" stroke-width="1.4"/>
<circle cx="672.3" cy="734.8" r="7.6" fill="none" stroke="rgba(70,70,70,0.62)" stroke-width="1.4"/>
<circle cx="697.6" cy="729.1" r="4.5" fill="none" stroke="rgba(70,70,70,0.62)" stroke-width="1.4"/>
<circle cx="705.3" cy="734.8" r="4.5" fill="none" stroke="rgba(70,70,70,0.62)" stroke-width="1.4"/>
<circle cx="678.9" cy="765.4" r="4.1" fill="none" stroke="rgba(70,70,70,0.62)" stroke-width="1.4"/>
<circle cx="776.8" cy="814.2" r="4.5" fill="none" stroke="rgba(70,70,70,0.62)" stroke-width="1.4"/>
<circle cx="548.0" cy="700.0" r="5.0" fill="none" stroke="rgba(70,70,70,0.62)" stroke-width="1.4"/>
<circle cx="540.0" cy="708.0" r="6.0" fill="none" stroke="rgba(70,70,70,0.62)" stroke-width="1.4"/>
<circle cx="548.0" cy="712.0" r="4.5" fill="none" stroke="rgba(70,70,70,0.62)" stroke-width="1.4"/>
<circle cx="539.0" cy="716.0" r="5.0" fill="none" stroke="rgba(70,70,70,0.62)" stroke-width="1.4"/>
<circle cx="549.0" cy="722.0" r="5.0" fill="none" stroke="rgba(70,70,70,0.62)" stroke-width="1.4"/>
<circle cx="544.0" cy="727.0" r="4.5" fill="none" stroke="rgba(70,70,70,0.62)" stroke-width="1.4"/>
<circle cx="553.0" cy="705.0" r="5.5" fill="none" stroke="rgba(70,70,70,0.62)" stroke-width="1.4"/>
<circle cx="520.0" cy="712.0" r="5.0" fill="none" stroke="rgba(70,70,70,0.62)" stroke-width="1.4"/>
<circle cx="565.0" cy="712.0" r="5.0" fill="none" stroke="rgba(70,70,70,0.62)" stroke-width="1.4"/>
<circle cx="572.0" cy="700.0" r="5.5" fill="none" stroke="rgba(70,70,70,0.62)" stroke-width="1.4"/>
<circle cx="544.3" cy="690.0" r="5.2" fill="none" stroke="rgba(70,70,70,0.62)" stroke-width="1.4"/>
<circle cx="544.3" cy="694.0" r="5.2" fill="none" stroke="rgba(70,70,70,0.62)" stroke-width="1.4"/>
<circle cx="544.3" cy="698.0" r="5.2" fill="none" stroke="rgba(70,70,70,0.62)" stroke-width="1.4"/>
<circle cx="544.3" cy="702.0" r="5.2" fill="none" stroke="rgba(70,70,70,0.62)" stroke-width="1.4"/>
<circle cx="544.3" cy="706.0" r="5.2" fill="none" stroke="rgba(70,70,70,0.62)" stroke-width="1.4"/>
<circle cx="544.3" cy="710.0" r="5.2" fill="none" stroke="rgba(70,70,70,0.62)" stroke-width="1.4"/>
<circle cx="544.3" cy="714.0" r="5.2" fill="none" stroke="rgba(70,70,70,0.62)" stroke-width="1.4"/>
<circle cx="544.3" cy="718.0" r="5.2" fill="none" stroke="rgba(70,70,70,0.62)" stroke-width="1.4"/>
<circle cx="544.3" cy="722.0" r="5.2" fill="none" stroke="rgba(70,70,70,0.62)" stroke-width="1.4"/>
<circle cx="544.3" cy="726.0" r="5.2" fill="none" stroke="rgba(70,70,70,0.62)" stroke-width="1.4"/>
<circle cx="544.3" cy="730.0" r="5.2" fill="none" stroke="rgba(70,70,70,0.62)" stroke-width="1.4"/>
<circle cx="540.5" cy="688.0" r="6.2" fill="none" stroke="rgba(70,70,70,0.62)" stroke-width="1.4"/>
<circle cx="548.0" cy="691.0" r="6.0" fill="none" stroke="rgba(70,70,70,0.62)" stroke-width="1.4"/>
<circle cx="540.5" cy="695.0" r="6.2" fill="none" stroke="rgba(70,70,70,0.62)" stroke-width="1.4"/>
<circle cx="548.0" cy="698.0" r="6.0" fill="none" stroke="rgba(70,70,70,0.62)" stroke-width="1.4"/>
<circle cx="540.5" cy="702.0" r="6.2" fill="none" stroke="rgba(70,70,70,0.62)" stroke-width="1.4"/>
<circle cx="548.0" cy="705.0" r="6.0" fill="none" stroke="rgba(70,70,70,0.62)" stroke-width="1.4"/>
<circle cx="540.5" cy="709.0" r="6.2" fill="none" stroke="rgba(70,70,70,0.62)" stroke-width="1.4"/>
<circle cx="548.0" cy="712.0" r="6.0" fill="none" stroke="rgba(70,70,70,0.62)" stroke-width="1.4"/>
<circle cx="540.5" cy="716.0" r="6.2" fill="none" stroke="rgba(70,70,70,0.62)" stroke-width="1.4"/>
<circle cx="548.0" cy="719.0" r="6.0" fill="none" stroke="rgba(70,70,70,0.62)" stroke-width="1.4"/>
<circle cx="540.5" cy="723.0" r="6.2" fill="none" stroke="rgba(70,70,70,0.62)" stroke-width="1.4"/>
<circle cx="548.0" cy="726.0" r="6.0" fill="none" stroke="rgba(70,70,70,0.62)" stroke-width="1.4"/>
<circle cx="540.5" cy="730.0" r="6.2" fill="none" stroke="rgba(70,70,70,0.62)" stroke-width="1.4"/>
<circle cx="548.0" cy="733.0" r="6.0" fill="none" stroke="rgba(70,70,70,0.62)" stroke-width="1.4"/>
<circle cx="540.5" cy="737.0" r="6.2" fill="none" stroke="rgba(70,70,70,0.62)" stroke-width="1.4"/>
<circle cx="548.0" cy="740.0" r="6.0" fill="none" stroke="rgba(70,70,70,0.62)" stroke-width="1.4"/>
<line x1="502.5" y1="703.9" x2="776.9" y2="721.1" stroke="#000" stroke-width="3.9"/>
<line x1="489.6" y1="707.0" x2="790.4" y2="707.0" stroke="#bebebe" stroke-width="1.6" stroke-dasharray="7 7"/>
<text transform="translate(703.8 782.0) scale(1.135 1)" font-size="14.6" fill="#111" stroke="#111" stroke-width="0.1">β = -0.05</text>
<text transform="translate(703.8 802.2) scale(1.135 1)" font-size="14.6" fill="#111" stroke="#111" stroke-width="0.1">p = 0.05</text>
<text transform="translate(493.6 633.5) scale(1 1.1)" font-size="17.2" font-style="italic" fill="#000">(h)</text>
<text x="524.5" y="634.7" font-size="21.6" font-weight="bold" fill="#000">Harvest−clearcut</text>
<path d="M888.6 30.8 V222.4 H1190.4" fill="none" stroke="#1a1a1a" stroke-width="1.9" stroke-linejoin="miter"/>
<line x1="883.6" y1="42.6" x2="888.6" y2="42.6" stroke="#333333" stroke-width="1.7"/>
<text transform="translate(880.0 50.0) scale(1.03 1.08)" text-anchor="end" font-size="19.2" fill="#555555">0.5</text>
<line x1="883.6" y1="97.4" x2="888.6" y2="97.4" stroke="#333333" stroke-width="1.7"/>
<text transform="translate(880.0 104.8) scale(1.03 1.08)" text-anchor="end" font-size="19.2" fill="#555555">0.0</text>
<line x1="883.6" y1="152.2" x2="888.6" y2="152.2" stroke="#333333" stroke-width="1.7"/>
<text transform="translate(880.0 159.6) scale(1.03 1.08)" text-anchor="end" font-size="19.2" fill="#555555">−0.5</text>
<line x1="883.6" y1="206.9" x2="888.6" y2="206.9" stroke="#333333" stroke-width="1.7"/>
<text transform="translate(880.0 214.3) scale(1.03 1.08)" text-anchor="end" font-size="19.2" fill="#555555">−1.0</text>
<line x1="900.8" y1="222.4" x2="900.8" y2="227.4" stroke="#333333" stroke-width="1.7"/>
<text transform="translate(900.8 244.9) scale(1.03 1.08)" text-anchor="middle" font-size="19.2" fill="#555555">−0.3</text>
<line x1="982.9" y1="222.4" x2="982.9" y2="227.4" stroke="#333333" stroke-width="1.7"/>
<text transform="translate(982.9 244.9) scale(1.03 1.08)" text-anchor="middle" font-size="19.2" fill="#555555">−0.2</text>
<line x1="1065.0" y1="222.4" x2="1065.0" y2="227.4" stroke="#333333" stroke-width="1.7"/>
<text transform="translate(1065.0 244.9) scale(1.03 1.08)" text-anchor="middle" font-size="19.2" fill="#555555">−0.1</text>
<line x1="1147.2" y1="222.4" x2="1147.2" y2="227.4" stroke="#333333" stroke-width="1.7"/>
<text transform="translate(1147.2 244.9) scale(1.03 1.08)" text-anchor="middle" font-size="19.2" fill="#555555">0.0</text>
<path d="M902.2 119.3 L909.1 118.1 L915.9 116.9 L922.8 115.6 L929.7 114.4 L936.5 113.2 L943.4 111.9 L950.2 110.7 L957.1 109.4 L964.0 108.1 L970.8 106.8 L977.7 105.5 L984.6 104.2 L991.4 102.9 L998.3 101.6 L1005.1 100.2 L1012.0 98.8 L1018.9 97.4 L1025.7 95.9 L1032.6 94.4 L1039.5 92.9 L1046.3 91.3 L1053.2 89.6 L1060.0 87.9 L1066.9 86.0 L1073.8 84.0 L1080.6 81.9 L1087.5 79.7 L1094.4 77.3 L1101.2 74.8 L1108.1 72.0 L1114.9 69.2 L1121.8 66.2 L1128.7 63.0 L1135.5 59.8 L1142.4 56.4 L1149.2 53.0 L1156.1 49.5 L1163.0 45.9 L1169.8 42.3 L1176.7 38.7 L1176.7 78.7 L1169.8 80.2 L1163.0 81.7 L1156.1 83.2 L1149.2 84.8 L1142.4 86.5 L1135.5 88.3 L1128.7 90.1 L1121.8 92.1 L1114.9 94.2 L1108.1 96.4 L1101.2 98.8 L1094.4 101.4 L1087.5 104.1 L1080.6 106.9 L1073.8 109.9 L1066.9 113.1 L1060.0 116.3 L1053.2 119.7 L1046.3 123.1 L1039.5 126.6 L1032.6 130.2 L1025.7 133.8 L1018.9 137.4 L1012.0 141.1 L1005.1 144.8 L998.3 148.6 L991.4 152.3 L984.6 156.1 L977.7 159.9 L970.8 163.7 L964.0 167.5 L957.1 171.4 L950.2 175.2 L943.4 179.1 L936.5 182.9 L929.7 186.8 L922.8 190.7 L915.9 194.5 L909.1 198.4 L902.2 202.3Z" fill="rgba(153,153,153,0.4)"/>
<circle cx="1039.5" cy="63.8" r="6.2" fill="none" stroke="rgba(70,70,70,0.62)" stroke-width="1.4"/>
<circle cx="1048.0" cy="58.8" r="6.2" fill="none" stroke="rgba(70,70,70,0.62)" stroke-width="1.4"/>
<circle cx="1090.8" cy="62.2" r="4.7" fill="none" stroke="rgba(70,70,70,0.62)" stroke-width="1.4"/>
<circle cx="1108.0" cy="60.5" r="9.7" fill="none" stroke="rgba(70,70,70,0.62)" stroke-width="1.4"/>
<circle cx="1132.8" cy="49.7" r="4.7" fill="none" stroke="rgba(70,70,70,0.62)" stroke-width="1.4"/>
<circle cx="1107.2" cy="69.5" r="4.7" fill="none" stroke="rgba(70,70,70,0.62)" stroke-width="1.4"/>
<circle cx="1107.2" cy="74.2" r="4.7" fill="none" stroke="rgba(70,70,70,0.62)" stroke-width="1.4"/>
<circle cx="1099.2" cy="77.8" r="5.0" fill="none" stroke="rgba(70,70,70,0.62)" stroke-width="1.4"/>
<circle cx="1109.2" cy="78.3" r="6.7" fill="none" stroke="rgba(70,70,70,0.62)" stroke-width="1.4"/>
<circle cx="1098.8" cy="88.3" r="5.0" fill="none" stroke="rgba(70,70,70,0.62)" stroke-width="1.4"/>
<circle cx="1110.0" cy="95.8" r="9.5" fill="none" stroke="rgba(70,70,70,0.62)" stroke-width="1.4"/>
<circle cx="1113.3" cy="92.0" r="5.0" fill="none" stroke="rgba(70,70,70,0.62)" stroke-width="1.4"/>
<circle cx="1105.5" cy="105.5" r="4.7" fill="none" stroke="rgba(70,70,70,0.62)" stroke-width="1.4"/>
<circle cx="1123.3" cy="67.5" r="4.7" fill="none" stroke="rgba(70,70,70,0.62)" stroke-width="1.4"/>
<circle cx="1125.8" cy="70.0" r="4.2" fill="none" stroke="rgba(70,70,70,0.62)" stroke-width="1.4"/>
<circle cx="1132.8" cy="67.5" r="6.2" fill="none" stroke="rgba(70,70,70,0.62)" stroke-width="1.4"/>
<circle cx="1139.2" cy="82.5" r="6.2" fill="none" stroke="rgba(70,70,70,0.62)" stroke-width="1.4"/>
<circle cx="1138.0" cy="80.0" r="5.0" fill="none" stroke="rgba(70,70,70,0.62)" stroke-width="1.4"/>
<circle cx="1140.0" cy="86.7" r="4.7" fill="none" stroke="rgba(70,70,70,0.62)" stroke-width="1.4"/>
<circle cx="1145.0" cy="70.0" r="6.7" fill="none" stroke="rgba(70,70,70,0.62)" stroke-width="1.4"/>
<circle cx="1146.7" cy="65.8" r="6.2" fill="none" stroke="rgba(70,70,70,0.62)" stroke-width="1.4"/>
<circle cx="1147.5" cy="64.2" r="5.0" fill="none" stroke="rgba(70,70,70,0.62)" stroke-width="1.4"/>
<circle cx="1144.2" cy="75.8" r="5.8" fill="none" stroke="rgba(70,70,70,0.62)" stroke-width="1.4"/>
<circle cx="1158.0" cy="73.3" r="6.2" fill="none" stroke="rgba(70,70,70,0.62)" stroke-width="1.4"/>
<circle cx="1148.0" cy="88.0" r="5.5" fill="none" stroke="rgba(70,70,70,0.62)" stroke-width="1.4"/>
<circle cx="1147.5" cy="99.7" r="6.2" fill="none" stroke="rgba(70,70,70,0.62)" stroke-width="1.4"/>
<circle cx="1121.7" cy="110.0" r="7.8" fill="none" stroke="rgba(70,70,70,0.62)" stroke-width="1.4"/>
<circle cx="1125.8" cy="118.3" r="6.2" fill="none" stroke="rgba(70,70,70,0.62)" stroke-width="1.4"/>
<circle cx="1142.5" cy="116.7" r="7.8" fill="none" stroke="rgba(70,70,70,0.62)" stroke-width="1.4"/>
<circle cx="1130.0" cy="128.8" r="6.2" fill="none" stroke="rgba(70,70,70,0.62)" stroke-width="1.4"/>
<circle cx="1177.2" cy="81.3" r="6.2" fill="none" stroke="rgba(70,70,70,0.62)" stroke-width="1.4"/>
<circle cx="1068.3" cy="98.0" r="5.5" fill="none" stroke="rgba(70,70,70,0.62)" stroke-width="1.4"/>
<circle cx="902.2" cy="213.8" r="6.2" fill="none" stroke="rgba(70,70,70,0.62)" stroke-width="1.4"/>
<circle cx="974.7" cy="124.2" r="7.5" fill="none" stroke="rgba(70,70,70,0.62)" stroke-width="1.4"/>
<line x1="1024" y1="49.7" x2="1029.5" y2="49.7" stroke="rgba(70,70,70,0.62)" stroke-width="1.1"/>
<line x1="902.2" y1="160.8" x2="1176.7" y2="58.7" stroke="#000" stroke-width="3.9"/>
<line x1="889.6" y1="97.4" x2="1190.4" y2="97.4" stroke="#bebebe" stroke-width="1.6" stroke-dasharray="7 7"/>
<text transform="translate(1090.5 181.2) scale(1.135 1)" font-size="14.6" fill="#111" stroke="#111" stroke-width="0.1">β = 0.16</text>
<text transform="translate(1090.5 201.4) scale(1.135 1)" font-size="14.6" fill="#111" stroke="#111" stroke-width="0.1">p &lt; 0.01</text>
<text transform="translate(894.4 33.9) scale(1 1.1)" font-size="17.2" font-style="italic" fill="#000">(c)</text>
<text x="920.9" y="35.5" font-size="21.6" font-weight="bold" fill="#000">Warming</text>
<path d="M888.6 330.8 V522.4 H1190.4" fill="none" stroke="#1a1a1a" stroke-width="1.9" stroke-linejoin="miter"/>
<line x1="883.6" y1="363.8" x2="888.6" y2="363.8" stroke="#333333" stroke-width="1.7"/>
<text transform="translate(880.0 371.2) scale(1.03 1.08)" text-anchor="end" font-size="19.2" fill="#555555">1.0</text>
<line x1="883.6" y1="398.3" x2="888.6" y2="398.3" stroke="#333333" stroke-width="1.7"/>
<text transform="translate(880.0 405.7) scale(1.03 1.08)" text-anchor="end" font-size="19.2" fill="#555555">0.5</text>
<line x1="883.6" y1="432.7" x2="888.6" y2="432.7" stroke="#333333" stroke-width="1.7"/>
<text transform="translate(880.0 440.1) scale(1.03 1.08)" text-anchor="end" font-size="19.2" fill="#555555">0.0</text>
<line x1="883.6" y1="467.2" x2="888.6" y2="467.2" stroke="#333333" stroke-width="1.7"/>
<text transform="translate(880.0 474.6) scale(1.03 1.08)" text-anchor="end" font-size="19.2" fill="#555555">−0.5</text>
<line x1="883.6" y1="501.7" x2="888.6" y2="501.7" stroke="#333333" stroke-width="1.7"/>
<text transform="translate(880.0 509.1) scale(1.03 1.08)" text-anchor="end" font-size="19.2" fill="#555555">−1.0</text>
<line x1="901.5" y1="522.4" x2="901.5" y2="527.4" stroke="#333333" stroke-width="1.7"/>
<text transform="translate(901.5 544.9) scale(1.03 1.08)" text-anchor="middle" font-size="19.2" fill="#555555">−0.2</text>
<line x1="988.8" y1="522.4" x2="988.8" y2="527.4" stroke="#333333" stroke-width="1.7"/>
<text transform="translate(988.8 544.9) scale(1.03 1.08)" text-anchor="middle" font-size="19.2" fill="#555555">−0.1</text>
<line x1="1076.0" y1="522.4" x2="1076.0" y2="527.4" stroke="#333333" stroke-width="1.7"/>
<text transform="translate(1076.0 544.9) scale(1.03 1.08)" text-anchor="middle" font-size="19.2" fill="#555555">0.0</text>
<line x1="1164.0" y1="522.4" x2="1164.0" y2="527.4" stroke="#333333" stroke-width="1.7"/>
<text transform="translate(1164.0 544.9) scale(1.03 1.08)" text-anchor="middle" font-size="19.2" fill="#555555">0.1</text>
<path d="M902.3 421.9 L909.2 422.1 L916.0 422.4 L922.9 422.6 L929.8 422.8 L936.6 423.0 L943.5 423.1 L950.3 423.2 L957.2 423.3 L964.1 423.4 L970.9 423.5 L977.8 423.5 L984.6 423.4 L991.5 423.3 L998.4 423.2 L1005.2 423.0 L1012.1 422.7 L1019.0 422.4 L1025.8 421.9 L1032.7 421.4 L1039.5 420.7 L1046.4 420.0 L1053.3 419.1 L1060.1 418.2 L1067.0 417.1 L1073.9 416.0 L1080.7 414.7 L1087.6 413.4 L1094.5 411.9 L1101.3 410.4 L1108.2 408.9 L1115.0 407.3 L1121.9 405.6 L1128.8 403.9 L1135.6 402.2 L1142.5 400.4 L1149.3 398.6 L1156.2 396.7 L1163.1 394.9 L1169.9 393.0 L1176.8 391.1 L1176.8 445.5 L1169.9 445.3 L1163.1 445.1 L1156.2 445.0 L1149.3 444.9 L1142.5 444.7 L1135.6 444.7 L1128.8 444.6 L1121.9 444.6 L1115.0 444.7 L1108.2 444.8 L1101.3 444.9 L1094.5 445.1 L1087.6 445.4 L1080.7 445.8 L1073.9 446.2 L1067.0 446.8 L1060.1 447.4 L1053.3 448.1 L1046.4 449.0 L1039.5 450.0 L1032.7 451.0 L1025.8 452.2 L1019.0 453.5 L1012.1 454.8 L1005.2 456.2 L998.4 457.7 L991.5 459.3 L984.6 460.9 L977.8 462.6 L970.9 464.3 L964.1 466.0 L957.2 467.8 L950.3 469.6 L943.5 471.5 L936.6 473.3 L929.8 475.2 L922.9 477.1 L916.0 479.0 L909.2 481.0 L902.3 482.9Z" fill="rgba(153,153,153,0.4)"/>
<circle cx="1100.7" cy="339.3" r="4.2" fill="none" stroke="rgba(70,70,70,0.62)" stroke-width="1.4"/>
<circle cx="966.7" cy="418.9" r="7.8" fill="none" stroke="rgba(70,70,70,0.62)" stroke-width="1.4"/>
<circle cx="971.0" cy="438.0" r="5.5" fill="none" stroke="rgba(70,70,70,0.62)" stroke-width="1.4"/>
<circle cx="968.0" cy="444.0" r="4.5" fill="none" stroke="rgba(70,70,70,0.62)" stroke-width="1.4"/>
<circle cx="990.0" cy="439.0" r="5.8" fill="none" stroke="rgba(70,70,70,0.62)" stroke-width="1.4"/>
<circle cx="1002.5" cy="436.5" r="7.8" fill="none" stroke="rgba(70,70,70,0.62)" stroke-width="1.4"/>
<circle cx="1020.5" cy="418.0" r="6.2" fill="none" stroke="rgba(70,70,70,0.62)" stroke-width="1.4"/>
<circle cx="1025.8" cy="451.0" r="4.7" fill="none" stroke="rgba(70,70,70,0.62)" stroke-width="1.4"/>
<circle cx="996.8" cy="464.5" r="4.5" fill="none" stroke="rgba(70,70,70,0.62)" stroke-width="1.4"/>
<circle cx="1045.3" cy="392.5" r="6.2" fill="none" stroke="rgba(70,70,70,0.62)" stroke-width="1.4"/>
<circle cx="1048.8" cy="405.5" r="6.2" fill="none" stroke="rgba(70,70,70,0.62)" stroke-width="1.4"/>
<circle cx="1057.8" cy="417.5" r="6.2" fill="none" stroke="rgba(70,70,70,0.62)" stroke-width="1.4"/>
<circle cx="1061.3" cy="425.0" r="6.2" fill="none" stroke="rgba(70,70,70,0.62)" stroke-width="1.4"/>
<circle cx="1050.5" cy="434.0" r="8.5" fill="none" stroke="rgba(70,70,70,0.62)" stroke-width="1.4"/>
<circle cx="1052.8" cy="441.0" r="7.8" fill="none" stroke="rgba(70,70,70,0.62)" stroke-width="1.4"/>
<circle cx="1068.0" cy="444.0" r="6.0" fill="none" stroke="rgba(70,70,70,0.62)" stroke-width="1.4"/>
<circle cx="1115.0" cy="395.3" r="6.2" fill="none" stroke="rgba(70,70,70,0.62)" stroke-width="1.4"/>
<circle cx="1131.2" cy="408.6" r="6.2" fill="none" stroke="rgba(70,70,70,0.62)" stroke-width="1.4"/>
<circle cx="1131.2" cy="420.0" r="4.8" fill="none" stroke="rgba(70,70,70,0.62)" stroke-width="1.4"/>
<circle cx="1140.1" cy="423.6" r="4.4" fill="none" stroke="rgba(70,70,70,0.62)" stroke-width="1.4"/>
<circle cx="1115.0" cy="432.5" r="4.4" fill="none" stroke="rgba(70,70,70,0.62)" stroke-width="1.4"/>
<circle cx="1177.1" cy="418.8" r="4.8" fill="none" stroke="rgba(70,70,70,0.62)" stroke-width="1.4"/>
<circle cx="1077.4" cy="412.2" r="4.4" fill="none" stroke="rgba(70,70,70,0.62)" stroke-width="1.4"/>
<circle cx="1076.9" cy="417.0" r="4.8" fill="none" stroke="rgba(70,70,70,0.62)" stroke-width="1.4"/>
<circle cx="1078.6" cy="419.4" r="4.2" fill="none" stroke="rgba(70,70,70,0.62)" stroke-width="1.4"/>
<circle cx="1088.2" cy="422.4" r="4.8" fill="none" stroke="rgba(70,70,70,0.62)" stroke-width="1.4"/>
<circle cx="1085.2" cy="421.8" r="4.2" fill="none" stroke="rgba(70,70,70,0.62)" stroke-width="1.4"/>
<circle cx="1076.9" cy="431.3" r="4.8" fill="none" stroke="rgba(70,70,70,0.62)" stroke-width="1.4"/>
<circle cx="1076.9" cy="437.3" r="4.8" fill="none" stroke="rgba(70,70,70,0.62)" stroke-width="1.4"/>
<circle cx="1076.9" cy="442.0" r="4.8" fill="none" stroke="rgba(70,70,70,0.62)" stroke-width="1.4"/>
<circle cx="1076.9" cy="446.8" r="4.8" fill="none" stroke="rgba(70,70,70,0.62)" stroke-width="1.4"/>
<circle cx="1076.9" cy="451.6" r="4.8" fill="none" stroke="rgba(70,70,70,0.62)" stroke-width="1.4"/>
<circle cx="1076.9" cy="456.4" r="5.4" fill="none" stroke="rgba(70,70,70,0.62)" stroke-width="1.4"/>
<circle cx="1076.9" cy="458.8" r="4.2" fill="none" stroke="rgba(70,70,70,0.62)" stroke-width="1.4"/>
<circle cx="1090.3" cy="440.9" r="6.2" fill="none" stroke="rgba(70,70,70,0.62)" stroke-width="1.4"/>
<circle cx="1090.3" cy="449.0" r="6.2" fill="none" stroke="rgba(70,70,70,0.62)" stroke-width="1.4"/>
<circle cx="1067.9" cy="444.4" r="5.7" fill="none" stroke="rgba(70,70,70,0.62)" stroke-width="1.4"/>
<circle cx="1084.0" cy="466.5" r="4.4" fill="none" stroke="rgba(70,70,70,0.62)" stroke-width="1.4"/>
<circle cx="1080.4" cy="480.8" r="9.5" fill="none" stroke="rgba(70,70,70,0.62)" stroke-width="1.4"/>
<circle cx="1054.8" cy="477.3" r="4.2" fill="none" stroke="rgba(70,70,70,0.62)" stroke-width="1.4"/>
<circle cx="902.3" cy="513.5" r="4.5" fill="none" stroke="rgba(70,70,70,0.62)" stroke-width="1.4"/>
<circle cx="1076.9" cy="426.0" r="4.8" fill="none" stroke="rgba(70,70,70,0.62)" stroke-width="1.4"/>
<line x1="902.3" y1="452.4" x2="1176.8" y2="418.5" stroke="#000" stroke-width="3.9"/>
<line x1="889.6" y1="432.7" x2="1190.4" y2="432.7" stroke="#bebebe" stroke-width="1.6" stroke-dasharray="7 7"/>
<text transform="translate(1106.9 483.1) scale(1.135 1)" font-size="14.6" fill="#111" stroke="#111" stroke-width="0.1">β = 0.04</text>
<text transform="translate(1106.9 503.3) scale(1.135 1)" font-size="14.6" fill="#111" stroke="#111" stroke-width="0.1">p = 0.04</text>
<text transform="translate(892.4 333.5) scale(1 1.1)" font-size="17.2" font-style="italic" fill="#000">(f)</text>
<text x="918.3" y="334.7" font-size="21.6" font-weight="bold" fill="#000">Afforestation</text>
<path d="M888.6 630.8 V822.4 H1190.4" fill="none" stroke="#1a1a1a" stroke-width="1.9" stroke-linejoin="miter"/>
<line x1="883.6" y1="647.9" x2="888.6" y2="647.9" stroke="#333333" stroke-width="1.7"/>
<text transform="translate(880.0 655.3) scale(1.03 1.08)" text-anchor="end" font-size="19.2" fill="#555555">1.0</text>
<line x1="883.6" y1="699.2" x2="888.6" y2="699.2" stroke="#333333" stroke-width="1.7"/>
<text transform="translate(880.0 706.6) scale(1.03 1.08)" text-anchor="end" font-size="19.2" fill="#555555">0.5</text>
<line x1="883.6" y1="750.6" x2="888.6" y2="750.6" stroke="#333333" stroke-width="1.7"/>
<text transform="translate(880.0 758.0) scale(1.03 1.08)" text-anchor="end" font-size="19.2" fill="#555555">0.0</text>
<line x1="883.6" y1="802.0" x2="888.6" y2="802.0" stroke="#333333" stroke-width="1.7"/>
<text transform="translate(880.0 809.4) scale(1.03 1.08)" text-anchor="end" font-size="19.2" fill="#555555">−0.5</text>
<line x1="920.1" y1="822.4" x2="920.1" y2="827.4" stroke="#333333" stroke-width="1.7"/>
<text transform="translate(920.1 844.9) scale(1.03 1.08)" text-anchor="middle" font-size="19.2" fill="#555555">−0.1</text>
<line x1="986.6" y1="822.4" x2="986.6" y2="827.4" stroke="#333333" stroke-width="1.7"/>
<text transform="translate(986.6 844.9) scale(1.03 1.08)" text-anchor="middle" font-size="19.2" fill="#555555">0.0</text>
<line x1="1053.0" y1="822.4" x2="1053.0" y2="827.4" stroke="#333333" stroke-width="1.7"/>
<text transform="translate(1053.0 844.9) scale(1.03 1.08)" text-anchor="middle" font-size="19.2" fill="#555555">0.1</text>
<line x1="1119.5" y1="822.4" x2="1119.5" y2="827.4" stroke="#333333" stroke-width="1.7"/>
<text transform="translate(1119.5 844.9) scale(1.03 1.08)" text-anchor="middle" font-size="19.2" fill="#555555">0.2</text>
<line x1="1186.0" y1="822.4" x2="1186.0" y2="827.4" stroke="#333333" stroke-width="1.7"/>
<text transform="translate(1186.0 844.9) scale(1.03 1.08)" text-anchor="middle" font-size="19.2" fill="#555555">0.3</text>
<path d="M902.5 724.3 L909.4 725.2 L916.2 726.0 L923.1 726.7 L929.9 727.4 L936.8 728.1 L943.7 728.6 L950.5 729.1 L957.4 729.4 L964.2 729.5 L971.1 729.5 L978.0 729.1 L984.8 728.5 L991.7 727.6 L998.5 726.2 L1005.4 724.5 L1012.3 722.4 L1019.1 720.0 L1026.0 717.3 L1032.8 714.4 L1039.7 711.3 L1046.6 708.1 L1053.4 704.7 L1060.3 701.2 L1067.1 697.7 L1074.0 694.1 L1080.9 690.4 L1087.7 686.7 L1094.6 683.0 L1101.4 679.2 L1108.3 675.4 L1115.2 671.6 L1122.0 667.8 L1128.9 663.9 L1135.7 660.1 L1142.6 656.2 L1149.5 652.3 L1156.3 648.4 L1163.2 644.5 L1170.0 640.6 L1176.9 636.7 L1176.9 774.9 L1170.0 773.8 L1163.2 772.8 L1156.3 771.8 L1149.5 770.8 L1142.6 769.8 L1135.7 768.8 L1128.9 767.8 L1122.0 766.9 L1115.2 765.9 L1108.3 765.0 L1101.4 764.1 L1094.6 763.2 L1087.7 762.3 L1080.9 761.5 L1074.0 760.7 L1067.1 760.0 L1060.3 759.3 L1053.4 758.7 L1046.6 758.2 L1039.7 757.9 L1032.8 757.6 L1026.0 757.6 L1019.1 757.8 L1012.3 758.3 L1005.4 759.1 L998.5 760.2 L991.7 761.8 L984.8 763.7 L978.0 766.0 L971.1 768.5 L964.2 771.4 L957.4 774.4 L950.5 777.6 L943.7 780.9 L936.8 784.3 L929.9 787.8 L923.1 791.4 L916.2 795.1 L909.4 798.7 L902.5 802.5Z" fill="rgba(153,153,153,0.4)"/>
<circle cx="901.8" cy="734.1" r="4.6" fill="none" stroke="rgba(70,70,70,0.62)" stroke-width="1.4"/>
<circle cx="946.8" cy="758.4" r="4.9" fill="none" stroke="rgba(70,70,70,0.62)" stroke-width="1.4"/>
<circle cx="932.7" cy="774.8" r="4.6" fill="none" stroke="rgba(70,70,70,0.62)" stroke-width="1.4"/>
<circle cx="986.7" cy="677.9" r="4.6" fill="none" stroke="rgba(70,70,70,0.62)" stroke-width="1.4"/>
<circle cx="983.4" cy="696.6" r="9.8" fill="none" stroke="rgba(70,70,70,0.62)" stroke-width="1.4"/>
<circle cx="980.3" cy="715.0" r="4.9" fill="none" stroke="rgba(70,70,70,0.62)" stroke-width="1.4"/>
<circle cx="988.3" cy="713.7" r="4.9" fill="none" stroke="rgba(70,70,70,0.62)" stroke-width="1.4"/>
<circle cx="985.5" cy="718.5" r="5.7" fill="none" stroke="rgba(70,70,70,0.62)" stroke-width="1.4"/>
<circle cx="977.9" cy="724.2" r="4.6" fill="none" stroke="rgba(70,70,70,0.62)" stroke-width="1.4"/>
<circle cx="968.5" cy="729.9" r="6.2" fill="none" stroke="rgba(70,70,70,0.62)" stroke-width="1.4"/>
<circle cx="972.5" cy="738.0" r="8.1" fill="none" stroke="rgba(70,70,70,0.62)" stroke-width="1.4"/>
<circle cx="986.3" cy="730.7" r="5.7" fill="none" stroke="rgba(70,70,70,0.62)" stroke-width="1.4"/>
<circle cx="988.8" cy="732.4" r="4.9" fill="none" stroke="rgba(70,70,70,0.62)" stroke-width="1.4"/>
<circle cx="990.4" cy="734.0" r="4.6" fill="none" stroke="rgba(70,70,70,0.62)" stroke-width="1.4"/>
<circle cx="982.0" cy="742.1" r="6.2" fill="none" stroke="rgba(70,70,70,0.62)" stroke-width="1.4"/>
<circle cx="984.7" cy="747.0" r="7.3" fill="none" stroke="rgba(70,70,70,0.62)" stroke-width="1.4"/>
<circle cx="990.4" cy="744.6" r="5.7" fill="none" stroke="rgba(70,70,70,0.62)" stroke-width="1.4"/>
<circle cx="992.4" cy="751.0" r="4.9" fill="none" stroke="rgba(70,70,70,0.62)" stroke-width="1.4"/>
<circle cx="1005.9" cy="731.2" r="4.9" fill="none" stroke="rgba(70,70,70,0.62)" stroke-width="1.4"/>
<circle cx="1020.5" cy="714.5" r="4.9" fill="none" stroke="rgba(70,70,70,0.62)" stroke-width="1.4"/>
<circle cx="1014.0" cy="770.6" r="6.2" fill="none" stroke="rgba(70,70,70,0.62)" stroke-width="1.4"/>
<circle cx="1005.9" cy="781.1" r="6.2" fill="none" stroke="rgba(70,70,70,0.62)" stroke-width="1.4"/>
<circle cx="1008.3" cy="786.8" r="6.2" fill="none" stroke="rgba(70,70,70,0.62)" stroke-width="1.4"/>
<circle cx="986.3" cy="789.3" r="6.2" fill="none" stroke="rgba(70,70,70,0.62)" stroke-width="1.4"/>
<circle cx="989.6" cy="792.5" r="6.2" fill="none" stroke="rgba(70,70,70,0.62)" stroke-width="1.4"/>
<circle cx="1017.2" cy="795.8" r="6.2" fill="none" stroke="rgba(70,70,70,0.62)" stroke-width="1.4"/>
<circle cx="1066.5" cy="699.3" r="6.2" fill="none" stroke="rgba(70,70,70,0.62)" stroke-width="1.4"/>
<circle cx="1091.5" cy="726.4" r="9.3" fill="none" stroke="rgba(70,70,70,0.62)" stroke-width="1.4"/>
<circle cx="1177.5" cy="703.3" r="9.3" fill="none" stroke="rgba(70,70,70,0.62)" stroke-width="1.4"/>
<line x1="902.5" y1="763.4" x2="1176.9" y2="705.8" stroke="#000" stroke-width="3.9"/>
<line x1="889.6" y1="750.6" x2="1190.4" y2="750.6" stroke="#bebebe" stroke-width="1.6" stroke-dasharray="7 7"/>
<text transform="translate(1107.5 782.3) scale(1.135 1)" font-size="14.6" fill="#111" stroke="#111" stroke-width="0.1">β = 0.08</text>
<text transform="translate(1107.5 802.5) scale(1.135 1)" font-size="14.6" fill="#111" stroke="#111" stroke-width="0.1">p &lt; 0.01</text>
<text transform="translate(892.4 633.5) scale(1 1.1)" font-size="17.2" font-style="italic" fill="#000">(i)</text>
<text x="918.3" y="634.7" font-size="21.6" font-weight="bold" fill="#000">Thinning</text>
<text x="172.2" y="904.6" font-size="23.4" fill="#000">Forest biome</text>
<text x="523.0" y="902.9" font-size="23.4" fill="#000"><tspan font-size="19.5">Δ</tspan>Soil temperature (<tspan dx="2.2" font-size="20">°</tspan><tspan dx="0.8">C)</tspan></text>
<text x="940.5" y="905.0" font-size="23.4" fill="#000"><tspan font-size="19.5">Δ</tspan>Soil water content</text>
</svg></body></html>
